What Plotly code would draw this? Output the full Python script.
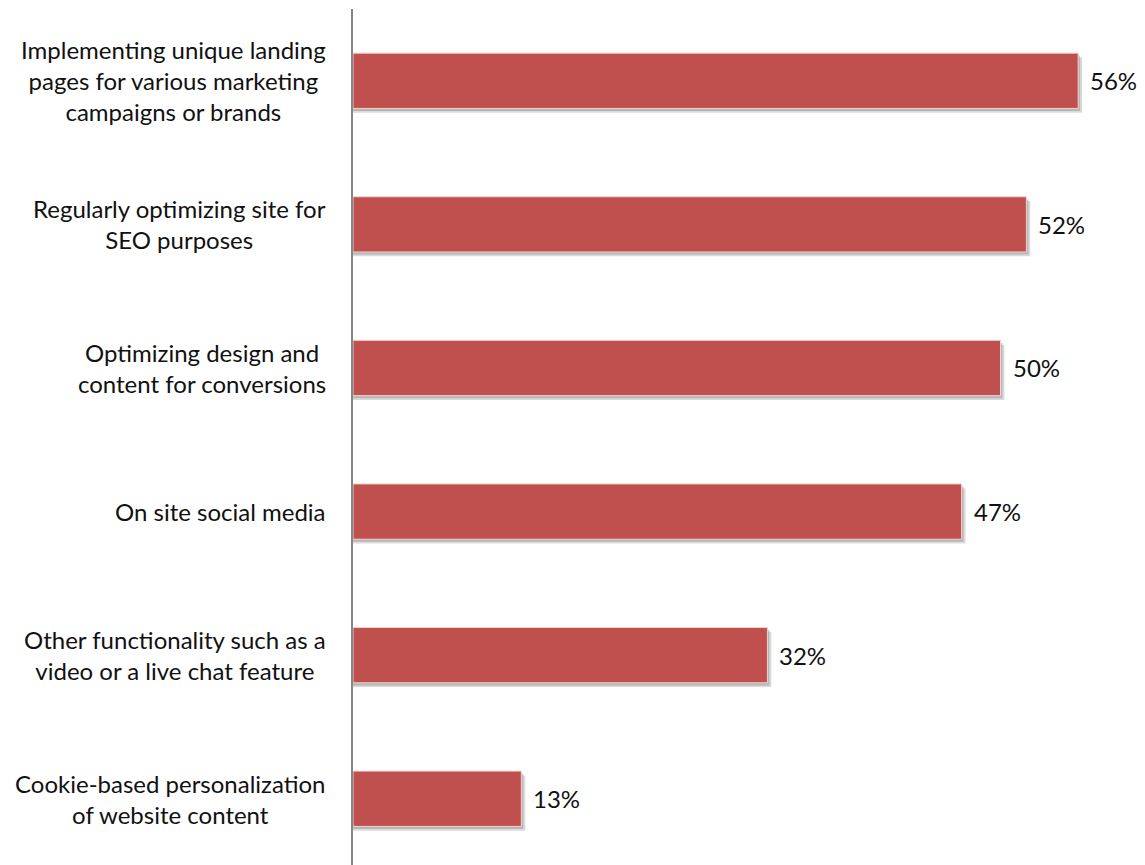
import plotly.graph_objects as go

categories = [
    "Implementing unique landing<br>pages for various marketing<br>campaigns or brands",
    "Regularly optimizing site for<br>SEO purposes",
    "Optimizing design and<br>content for conversions",
    "On site social media",
    "Other functionality such as a<br>video or a live chat feature",
    "Cookie-based personalization<br>of website content",
]
values = [56, 52, 50, 47, 32, 13]
value_labels = ["56%", "52%", "50%", "47%", "32%", "13%"]

FONT = "Lato"
BAR_W = 0.385

fig = go.Figure()

# soft shadow layers
fig.add_trace(go.Bar(
    y=categories, x=[v + 0.3 for v in values], orientation="h",
    width=BAR_W, offset=-BAR_W / 2 + 0.03,
    marker=dict(color="rgba(150,150,150,0.35)", line=dict(width=0)),
    hoverinfo="skip", showlegend=False,
))
fig.add_trace(go.Bar(
    y=categories, x=[v + 0.15 for v in values], orientation="h",
    width=BAR_W, offset=-BAR_W / 2 + 0.018,
    marker=dict(color="rgba(140,140,140,0.45)", line=dict(width=0)),
    hoverinfo="skip", showlegend=False,
))
fig.add_trace(go.Bar(
    y=categories, x=values, orientation="h",
    width=BAR_W, offset=-BAR_W / 2,
    marker=dict(color="#C0504D", line=dict(color="#F0D2D1", width=1)),
    showlegend=False,
))

annotations = []
for cat, v, lab in zip(categories, values, value_labels):
    annotations.append(dict(
        x=v, y=cat, xref="x", yref="y", text=lab, showarrow=False,
        xanchor="left", yanchor="middle", xshift=10,
        font=dict(family=FONT, size=24, color="#111111"),
    ))
    annotations.append(dict(
        x=0, y=cat, xref="paper", yref="y", text=cat, showarrow=False,
        xanchor="right", yanchor="middle", xshift=-25, align="center",
        font=dict(family=FONT, size=24, color="#111111"),
    ))

fig.update_layout(
    width=1137, height=865,
    margin=dict(l=345, r=15, t=1, b=0),
    paper_bgcolor="white", plot_bgcolor="white",
    barmode="overlay",
    annotations=annotations,
    xaxis=dict(range=[0, 60], visible=False, showgrid=False, zeroline=False),
    yaxis=dict(
        type="category", categoryorder="array", categoryarray=categories,
        range=[5.517, -0.5], showticklabels=False, ticks="",
        showgrid=False, zeroline=False,
        showline=True, linecolor="#868686", linewidth=2,
    ),
)

fig.write_html("out.html")
